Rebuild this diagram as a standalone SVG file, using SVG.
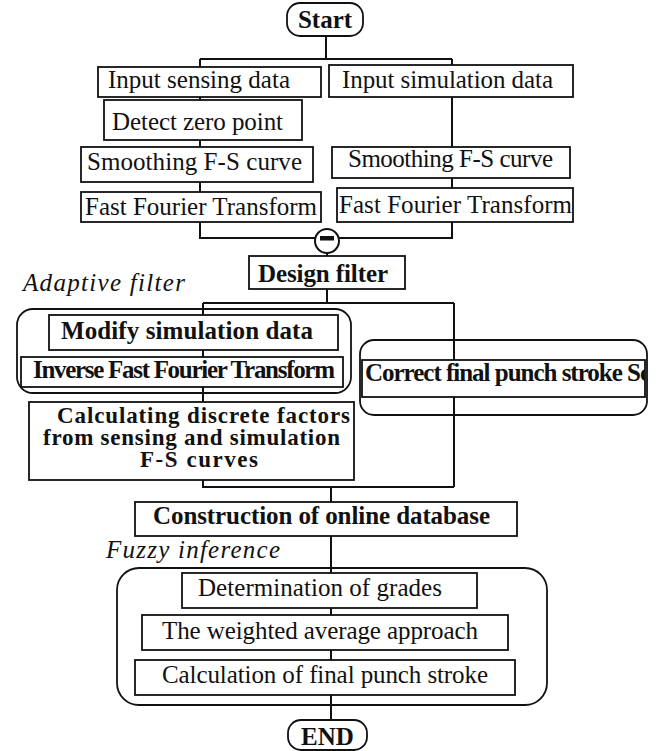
<svg xmlns="http://www.w3.org/2000/svg" width="659" height="751" viewBox="0 0 659 751">
<style>
.box{fill:#fff;stroke:#111;stroke-width:1.8}
.grp{fill:none;stroke:#111;stroke-width:1.8}
.ln{fill:none;stroke:#111;stroke-width:2}
.t{font-family:"Liberation Serif","Times New Roman",serif;font-size:25px;fill:#111}
.b{font-weight:bold}
.i{font-style:italic}
.c{font-size:23px}
</style>
<defs>
<clipPath id="clipC"><rect x="362" y="360" width="283" height="37"/></clipPath>
</defs>
<rect width="659" height="751" fill="#fff"/>
<g id="connectors">
<path class="ln" d="M326 36V59M200 59H452M200 59V67M452 59V65M200 97V100M200 140V147M200 182V192M452 97V147M452 178V188M200 222V238H315M338 238H452V222M327 253V256"/>
<path class="ln" d="M327 289V303M203 303H454M203 303V315M203 350V357M203 387V402M454 303V487M203 480V487H454M331 487V502M331 536V573M331 608V615M331 650V660M331 695V720"/>
</g>
<g id="start"><rect class="box" x="287" y="3" width="76" height="33" rx="13"/><text class="t b" x="325" y="28" font-size="28" text-anchor="middle">Start</text></g>
<g id="input-sensing"><rect class="box" x="98" y="67" width="223" height="30"/><text class="t" x="108" y="88" textLength="182">Input sensing data</text></g>
<g id="input-simulation"><rect class="box" x="329" y="65" width="244" height="32"/><text class="t" x="342" y="88" textLength="211">Input simulation data</text></g>
<g id="detect-zero"><rect class="box" x="104" y="100" width="198" height="40"/><text class="t" x="112" y="130" textLength="171">Detect zero point</text></g>
<g id="smooth-left"><rect class="box" x="81" y="147" width="232" height="35"/><text class="t" x="87" y="170" textLength="215">Smoothing F-S curve</text></g>
<g id="smooth-right"><rect class="box" x="332" y="147" width="238" height="31"/><text class="t" x="348" y="167" textLength="205">Smoothing F-S curve</text></g>
<g id="fft-left"><rect class="box" x="81" y="192" width="240" height="30"/><text class="t" x="85" y="215" textLength="232">Fast Fourier Transform</text></g>
<g id="fft-right"><rect class="box" x="337" y="188" width="236" height="34"/><text class="t" x="339" y="213" textLength="233">Fast Fourier Transform</text></g>
<g id="subtract"><circle cx="327" cy="241" r="12" fill="#fff" stroke="#111" stroke-width="2"/><rect x="320" y="236" width="14" height="4.5" fill="#111"/></g>
<g id="design-filter"><rect class="box" x="249" y="256" width="156" height="33"/><text class="t b" x="258" y="282" textLength="130">Design filter</text></g>
<g id="adaptive-filter"><text class="t i" x="23" y="291" textLength="162">Adaptive filter</text><rect class="grp" x="17" y="309" width="334" height="84" rx="16"/></g>
<g id="modify"><rect class="box" x="49" y="315" width="289" height="35"/><text class="t b" x="61" y="339" textLength="252">Modify simulation data</text></g>
<g id="ifft"><rect class="box" x="21" y="357" width="322" height="30"/><text class="t b" x="33" y="378" font-size="20" textLength="302">Inverse Fast Fourier Transform</text></g>
<g id="calculating"><rect class="box" x="29" y="402" width="325" height="78"/><text class="t b c" x="57" y="423" textLength="293">Calculating discrete factors</text><text class="t b c" x="43" y="445" textLength="297">from sensing and simulation</text><text class="t b c" x="140" y="467" textLength="118">F-S curves</text></g>
<g id="correct"><rect class="grp" x="360" y="340" width="287" height="75" rx="14"/><rect class="box" x="362" y="360" width="283" height="37"/><text class="t b" x="365" y="381" font-size="21" textLength="286" clip-path="url(#clipC)">Correct final punch stroke Sc</text></g>
<g id="construction"><rect class="box" x="135" y="502" width="382" height="34"/><text class="t b" x="153" y="524" textLength="337">Construction of online database</text></g>
<g id="fuzzy-inference"><text class="t i" x="106" y="558" textLength="174">Fuzzy inference</text><rect class="grp" x="117" y="568" width="430" height="137" rx="22"/></g>
<g id="determination"><rect class="box" x="182" y="573" width="295" height="35"/><text class="t" x="198" y="596" textLength="244">Determination of grades</text></g>
<g id="weighted"><rect class="box" x="142" y="615" width="366" height="35"/><text class="t" x="162" y="639" textLength="316">The weighted average approach</text></g>
<g id="calc-final"><rect class="box" x="135" y="660" width="380" height="35"/><text class="t" x="162" y="683" textLength="326">Calculation of final punch stroke</text></g>
<g id="end"><rect class="box" x="288" y="720" width="79" height="30" rx="13"/><text class="t b" x="327.5" y="745" font-size="28" text-anchor="middle">END</text></g>
</svg>
